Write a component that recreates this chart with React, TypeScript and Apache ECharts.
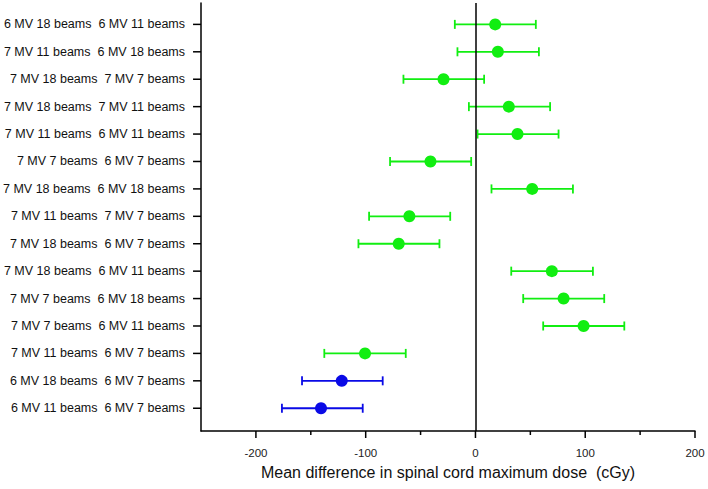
import React, { useEffect, useRef } from "react";
import * as echarts from "echarts";

const categories: string[] = [
  "6 MV 18 beams  6 MV 11 beams",
  "7 MV 11 beams  6 MV 18 beams",
  "7 MV 18 beams  7 MV 7 beams",
  "7 MV 18 beams  7 MV 11 beams",
  "7 MV 11 beams  6 MV 11 beams",
  "7 MV 7 beams  6 MV 7 beams",
  "7 MV 18 beams  6 MV 18 beams",
  "7 MV 11 beams  7 MV 7 beams",
  "7 MV 18 beams  6 MV 7 beams",
  "7 MV 18 beams  6 MV 11 beams",
  "7 MV 7 beams  6 MV 18 beams",
  "7 MV 7 beams  6 MV 11 beams",
  "7 MV 11 beams  6 MV 7 beams",
  "6 MV 18 beams  6 MV 7 beams",
  "6 MV 11 beams  6 MV 7 beams",
];
const means: number[] = [18, 20.4, -29.1, 30.4, 38.3, -41, 51.7, -60.2, -69.9, 69.6, 80.3, 98.5, -100.6, -121.8, -140.7];
const lowers: number[] = [-18.8, -16.4, -65.6, -6, 1.9, -77.8, 14.6, -96.9, -106.6, 32.6, 43.5, 61.7, -137.7, -158, -176.3];
const uppers: number[] = [55, 57.8, 7.9, 68, 75.7, -3.9, 88.8, -23, -32.8, 107, 117.3, 135.6, -63.5, -84.5, -102.7];
const groups: string[] = ["g", "g", "g", "g", "g", "g", "g", "g", "g", "g", "g", "g", "g", "b", "b"];
const majorTicks: number[] = [-200, -100, 0, 100, 200];
const minorTicks: number[] = [-150, -50, 50, 150];
const xMin = -250;
const xMax = 200;
const yMin = -0.78;
const yMax = 14.83;
const xTitle = "Mean difference in spinal cord maximum dose  (cGy)";

const GREEN = "#11ee11";
const BLUE = "#0a0ae6";

export default function App() {
  const ref = useRef<HTMLDivElement>(null);
  useEffect(() => {
    document.body.style.margin = "0";
    if (!ref.current) return;
    const chart = echarts.init(ref.current, null, { renderer: "svg" });
    const rowIdx = categories.map((_, i) => i);
    const colorOf = (i: number) => (groups[i] === "b" ? BLUE : GREEN);
    const errData = categories.map((_, i) => [lowers[i], uppers[i], i]);
    const ptData = categories.map((_, i) => ({
      value: [means[i], i],
      itemStyle: { color: colorOf(i), opacity: 1 },
    }));
    const font = "Arial, 'Liberation Sans', sans-serif";
    chart.setOption({
      animation: false,
      backgroundColor: "#fff",
      grid: { left: 201, right: 13, top: 3, bottom: 58 },
      xAxis: {
        type: "value",
        min: xMin,
        max: xMax,
        position: "bottom",
        splitLine: { show: false },
        axisLine: { show: true, onZero: false, lineStyle: { color: "#000", width: 1.5 } },
        axisTick: { show: false },
        axisLabel: { customValues: majorTicks, margin: 16, fontSize: 11.5, color: "#222", fontFamily: font },
        name: xTitle,
        nameLocation: "middle",
        nameGap: 33,
        nameTextStyle: { fontSize: 16, color: "#111", fontFamily: font },
      },
      yAxis: {
        type: "value",
        inverse: true,
        min: yMin,
        max: yMax,
        splitLine: { show: false },
        axisLine: { show: true, onZero: false, lineStyle: { color: "#000", width: 1.5 } },
        axisTick: { show: false },
        axisLabel: {
          customValues: rowIdx,
          margin: 16,
          fontSize: 12.5,
          color: "#111",
          fontFamily: font,
          formatter: (v: number) => categories[Math.round(v)] ?? "",
        },
      },
      series: [
        {
          type: "custom",
          data: errData,
          renderItem: (params: any, api: any) => {
            const lo = api.coord([api.value(0), api.value(2)]);
            const hi = api.coord([api.value(1), api.value(2)]);
            const i = api.value(2);
            const c = colorOf(i);
            const h = 4.5;
            const style = { stroke: c, lineWidth: 1.8 };
            return {
              type: "group",
              children: [
                { type: "line", shape: { x1: lo[0], y1: lo[1], x2: hi[0], y2: hi[1] }, style },
                { type: "line", shape: { x1: lo[0], y1: lo[1] - h, x2: lo[0], y2: lo[1] + h }, style },
                { type: "line", shape: { x1: hi[0], y1: hi[1] - h, x2: hi[0], y2: hi[1] + h }, style },
              ],
            };
          },
          z: 2,
        },
        {
          type: "scatter",
          symbol: "circle",
          symbolSize: 12,
          data: ptData,
          z: 3,
          markLine: {
            silent: true,
            symbol: "none",
            label: { show: false },
            lineStyle: { color: "#000", width: 1.5, type: "solid" },
            data: [{ xAxis: 0 }],
          },
        },
      ],
    });
    // tick marks positioned through the chart's own scales
    const corner = chart.convertToPixel({ gridIndex: 0 }, [xMin, yMax]);
    const bottomY = corner[1];
    const leftX = corner[0];
    const tickStyle = { stroke: "#000", lineWidth: 1.5 };
    const xTickEls = [
      ...majorTicks.map((v) => ({ v, len: 7 })),
      ...minorTicks.map((v) => ({ v, len: 4 })),
    ].map(({ v, len }) => {
      const px = chart.convertToPixel({ gridIndex: 0 }, [v, yMax])[0];
      return { type: "line", silent: true, shape: { x1: px, y1: bottomY, x2: px, y2: bottomY + len }, style: tickStyle };
    });
    const yTickEls = rowIdx.map((i) => {
      const py = chart.convertToPixel({ gridIndex: 0 }, [xMin, i])[1];
      return { type: "line", silent: true, shape: { x1: leftX - 8, y1: py, x2: leftX, y2: py }, style: tickStyle };
    });
    chart.setOption({ graphic: { elements: [...xTickEls, ...yTickEls] } });
    return () => chart.dispose();
  }, []);
  return <div ref={ref} style={{ width: 708, height: 489 }} />;
}
